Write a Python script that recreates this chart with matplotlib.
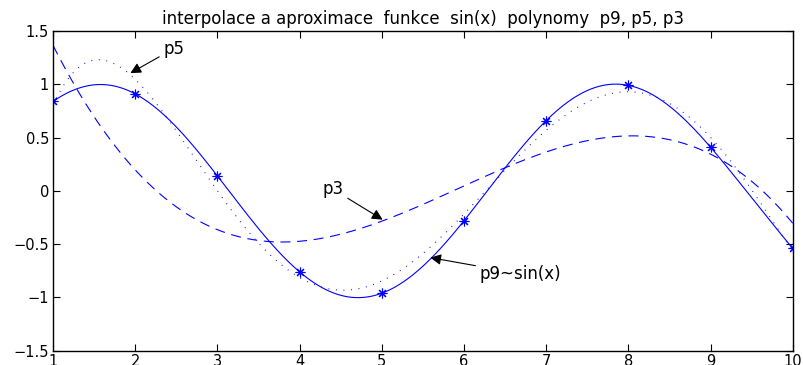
import numpy as np
import matplotlib
matplotlib.use("Agg")
import matplotlib.pyplot as plt

# uzly a hodnoty (hvezdicky)
x_nodes = [1, 2, 3, 4, 5, 6, 7, 8, 9, 10]
y_nodes = [0.84, 0.91, 0.14, -0.76, -0.96, -0.28, 0.66, 0.99, 0.41, -0.54]
degrees = [9, 5, 3]
styles = {9: "-", 5: (0, (0.8, 6)), 3: (0, (9, 6))}

plt.rcParams["font.family"] = ["DejaVu Sans"]
plt.rcParams["font.size"] = 10

fig = plt.figure(figsize=(8.04, 3.65), dpi=100)
ax = fig.add_axes([0.066, 0.039, 0.920, 0.876])

xx = np.linspace(1, 10, 400)
for d in degrees:
    c = np.polyfit(x_nodes, y_nodes, d)
    ax.plot(xx, np.polyval(c, xx), color="blue", lw=0.8, linestyle=styles[d])
ax.plot(x_nodes, y_nodes, linestyle="none", marker=(8, 2, 0), color="blue", ms=7, mew=0.8)

ax.set_xlim(1, 10)
ax.set_ylim(-1.5, 1.5)
ax.set_xticks(range(1, 11))
ax.set_yticks([-1.5, -1, -0.5, 0, 0.5, 1, 1.5])
ax.set_yticklabels(["−1.5", "−1", "−0.5", "0", "0.5", "1", "1.5"])
ax.tick_params(direction="in", top=True, right=True, length=5, width=0.8,
               labelsize=10.5, pad=3)
ax.tick_params(axis="x", pad=2)
for s in ax.spines.values():
    s.set_linewidth(1.0)

ax.set_title("interpolace a aproximace  funkce  sin(x)  polynomy  p9, p5, p3",
             fontsize=12, pad=5)

arrow = dict(arrowstyle="-|>", color="black", lw=0.8, mutation_scale=16,
             shrinkA=1, shrinkB=0)
ax.annotate("p5", xy=(1.94, 1.105), xytext=(2.34, 1.25), arrowprops=arrow,
            fontsize=12, va="bottom", ha="left")
ax.annotate("p3", xy=(5.01, -0.27), xytext=(4.28, -0.07), arrowprops=arrow,
            fontsize=12, va="bottom", ha="left")
ax.annotate("p9~sin(x)", xy=(5.59, -0.626), xytext=(6.19, -0.777), arrowprops=arrow,
            fontsize=12, va="center", ha="left")

fig.savefig("out.png", dpi=100)
